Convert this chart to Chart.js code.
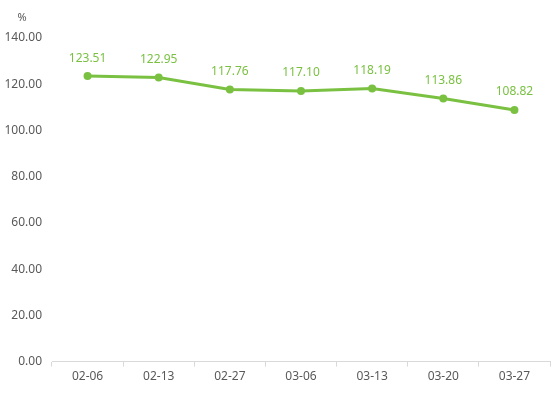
<!DOCTYPE html>
<html>
<head>
<meta charset="utf-8">
<script src="https://cdn.jsdelivr.net/npm/chart.js@4/dist/chart.umd.min.js"></script>
<style>
  html, body { margin: 0; padding: 0; background: #fff; }
  #wrap { width: 554px; height: 393px; }
</style>
</head>
<body>
<div id="wrap"><canvas id="chart"></canvas></div>
<script>
const categories = ['02-06', '02-13', '02-27', '03-06', '03-13', '03-20', '03-27'];
const values = [123.51, 122.95, 117.76, 117.10, 118.19, 113.86, 108.82];
const yTicks = [0, 20, 40, 60, 80, 100, 120, 140];
const unitLabel = '%';

const green = 'rgb(122, 193, 66)';
const textGrey = '#595959';
const fontFamily = '"Noto Sans", "DejaVu Sans", sans-serif';

// value labels above each point
const pointLabels = {
    id: 'pointLabels',
    afterDatasetsDraw(chart) {
        const ctx = chart.ctx;
        const meta = chart.getDatasetMeta(0);
        ctx.save();
        ctx.font = '12px ' + fontFamily;
        ctx.fillStyle = green;
        ctx.textAlign = 'center';
        ctx.textBaseline = 'middle';
        meta.data.forEach((pt, i) => {
            ctx.fillText(values[i].toFixed(2), pt.x, pt.y - 18);
        });
        ctx.restore();
    }
};

// unit text above the y axis
const unitText = {
    id: 'unitText',
    afterDraw(chart) {
        const ctx = chart.ctx;
        ctx.save();
        ctx.font = '11px ' + fontFamily;
        ctx.fillStyle = textGrey;
        ctx.textAlign = 'center';
        ctx.textBaseline = 'middle';
        ctx.fillText(unitLabel, 22, 18);
        ctx.restore();
    }
};

new Chart(document.getElementById('chart'), {
    type: 'line',
    data: {
        labels: categories,
        datasets: [{
            data: values,
            borderColor: green,
            backgroundColor: green,
            borderWidth: 3,
            pointRadius: 4,
            pointHoverRadius: 4,
            pointBackgroundColor: green,
            pointBorderWidth: 0,
            tension: 0
        }]
    },
    options: {
        responsive: true,
        maintainAspectRatio: false,
        animation: false,
        layout: { padding: { top: 38, right: 0, left: 0, bottom: 6 } },
        plugins: { legend: { display: false }, tooltip: { enabled: false } },
        scales: {
            x: {
                offset: true,
                grid: { drawOnChartArea: false, offset: true, tickLength: 5, color: '#d9d9d9' },
                border: { color: '#d9d9d9' },
                ticks: { color: textGrey, font: { size: 12, family: fontFamily }, padding: 3 }
            },
            y: {
                min: yTicks[0],
                max: yTicks[yTicks.length - 1],
                afterBuildTicks: (scale) => { scale.ticks = yTicks.map(v => ({ value: v })); },
                grid: { display: false },
                border: { display: false },
                ticks: {
                    color: textGrey,
                    font: { size: 12, family: fontFamily },
                    padding: 2,
                    callback: (v) => Number(v).toFixed(2)
                },
                afterFit: (scale) => { scale.width = 52; }
            }
        }
    },
    plugins: [pointLabels, unitText]
});
</script>
</body>
</html>
